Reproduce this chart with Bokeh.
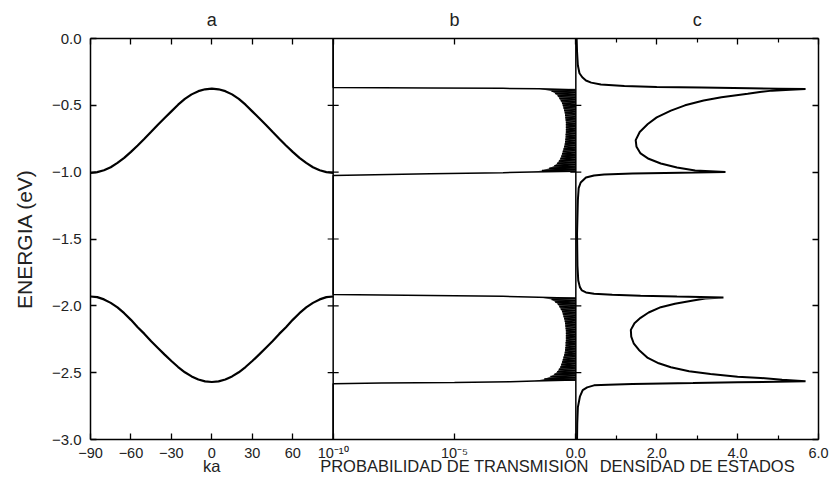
import math
from bokeh.plotting import figure
from bokeh.models import Range1d, LogScale, LinearAxis, FixedTicker, Span
from bokeh.embed import file_html
from bokeh.resources import INLINE

FONT = "Liberation Sans"
TXT = "#222222"

# ---------------- panel a : bands E(ka) ----------------
ka = [-90, -85, -80, -75, -70, -65, -60, -55, -50, -45, -40, -35, -30, -25, -20, -15, -10, -5, 0,
      5, 10, 15, 20, 25, 30, 35, 40, 45, 50, 55, 60, 65, 70, 75, 80, 85, 90]
band_upper = [-1.005, -1.000, -0.986, -0.963, -0.931, -0.893, -0.848, -0.800, -0.750, -0.698,
              -0.645, -0.595, -0.545, -0.495, -0.452, -0.418, -0.394, -0.380, -0.375,
              -0.380, -0.394, -0.418, -0.452, -0.495, -0.545, -0.595, -0.645, -0.698,
              -0.750, -0.800, -0.848, -0.893, -0.931, -0.963, -0.986, -1.000, -1.005]
band_lower = [-1.930, -1.935, -1.952, -1.978, -2.012, -2.055, -2.105, -2.160, -2.210, -2.265,
              -2.315, -2.365, -2.413, -2.458, -2.497, -2.528, -2.551, -2.565, -2.570,
              -2.565, -2.551, -2.528, -2.497, -2.458, -2.413, -2.365, -2.315, -2.265,
              -2.210, -2.160, -2.105, -2.055, -2.012, -1.978, -1.952, -1.935, -1.930]

# ---------------- panel b : transmission (log) ----------------
trans_E = [0.0, -0.366, -0.370, -0.373, -0.376,
           -0.385, -0.394, -0.403, -0.412, -0.421, -0.430, -0.439, -0.448, -0.457, -0.466,
           -0.475, -0.484, -0.493, -0.502, -0.511, -0.520, -0.529, -0.538, -0.547, -0.556,
           -0.565, -0.574, -0.583, -0.592, -0.601, -0.610, -0.619, -0.628, -0.637, -0.646,
           -0.655, -0.664, -0.673, -0.682, -0.691, -0.700, -0.709, -0.718, -0.727, -0.736,
           -0.745, -0.754, -0.763, -0.772, -0.781, -0.790, -0.799, -0.808, -0.817, -0.826,
           -0.835, -0.844, -0.853, -0.862, -0.871, -0.880, -0.889, -0.898, -0.907, -0.916,
           -0.925, -0.934, -0.943, -0.952, -0.961, -0.970, -0.979, -0.988, -0.994, -0.999,
           -1.004, -1.012, -1.025,
           -1.915, -1.922, -1.929, -1.935,
           -1.944, -1.953, -1.962, -1.971, -1.980, -1.989, -1.998, -2.007, -2.016, -2.025,
           -2.034, -2.043, -2.052, -2.061, -2.070, -2.079, -2.088, -2.097, -2.106, -2.115,
           -2.124, -2.133, -2.142, -2.151, -2.160, -2.169, -2.178, -2.187, -2.196, -2.205,
           -2.214, -2.223, -2.232, -2.241, -2.250, -2.259, -2.268, -2.277, -2.286, -2.295,
           -2.304, -2.313, -2.322, -2.331, -2.340, -2.349, -2.358, -2.367, -2.376, -2.385,
           -2.394, -2.403, -2.412, -2.421, -2.430, -2.439, -2.448, -2.457, -2.466, -2.475,
           -2.484, -2.493, -2.502, -2.511, -2.520, -2.529, -2.538, -2.547, -2.555, -2.562,
           -2.568, -2.573, -2.578, -2.582, -3.0]
trans_T = [1e-10, 1e-10, 1e-6, 1e-3, 0.03,
           1.0, 0.10, 1.0, 0.14, 1.0, 0.18, 1.0, 0.21, 1.0, 0.24,
           1.0, 0.27, 1.0, 0.29, 1.0, 0.31, 1.0, 0.33, 1.0, 0.35,
           1.0, 0.36, 1.0, 0.37, 1.0, 0.38, 1.0, 0.39, 1.0, 0.39,
           1.0, 0.39, 1.0, 0.39, 1.0, 0.39, 1.0, 0.38, 1.0, 0.38,
           1.0, 0.37, 1.0, 0.36, 1.0, 0.35, 1.0, 0.33, 1.0, 0.31,
           1.0, 0.29, 1.0, 0.27, 1.0, 0.25, 1.0, 0.23, 1.0, 0.20,
           1.0, 0.17, 1.0, 0.13, 1.0, 0.08, 1.0, 0.04, 1.0, 0.015,
           1e-3, 1e-6, 1e-10,
           1e-10, 1e-6, 1e-3, 0.03,
           1.0, 0.10, 1.0, 0.14, 1.0, 0.18, 1.0, 0.21, 1.0, 0.24,
           1.0, 0.27, 1.0, 0.29, 1.0, 0.31, 1.0, 0.33, 1.0, 0.35,
           1.0, 0.36, 1.0, 0.37, 1.0, 0.38, 1.0, 0.39, 1.0, 0.39,
           1.0, 0.39, 1.0, 0.39, 1.0, 0.39, 1.0, 0.38, 1.0, 0.38,
           1.0, 0.37, 1.0, 0.36, 1.0, 0.35, 1.0, 0.33, 1.0, 0.31,
           1.0, 0.29, 1.0, 0.27, 1.0, 0.25, 1.0, 0.23, 1.0, 0.20,
           1.0, 0.17, 1.0, 0.13, 1.0, 0.09, 1.0, 0.05, 1.0, 0.02,
           2e-3, 1e-5, 1e-8, 1e-10, 1e-10]

# ---------------- panel c : density of states ----------------
dos_E = [0.0, -0.10, -0.20, -0.26, -0.29, -0.314, -0.33, -0.344, -0.355, -0.362,
         -0.367, -0.372, -0.375, -0.378, -0.383, -0.390, -0.400, -0.414, -0.440, -0.464,
         -0.500, -0.540, -0.590, -0.640, -0.700, -0.760, -0.810, -0.860, -0.900, -0.935,
         -0.965, -0.987, -0.998, -1.004, -1.010, -1.018, -1.025, -1.040, -1.077, -1.120,
         -1.210, -1.460, -1.700, -1.810, -1.860, -1.885, -1.900, -1.910, -1.918, -1.924,
         -1.930, -1.937, -1.945, -1.960, -1.985, -2.010, -2.050, -2.090, -2.130, -2.180,
         -2.230, -2.280, -2.330, -2.390, -2.430, -2.460, -2.490, -2.510, -2.530, -2.540,
         -2.553, -2.565, -2.572, -2.578, -2.585, -2.590, -2.595, -2.610, -2.630, -2.680,
         -2.760, -2.880, -3.000]
dos_D = [0.02, 0.03, 0.05, 0.09, 0.16, 0.25, 0.38, 0.62, 1.2, 2.0,
         3.1, 4.3, 5.0, 5.68, 5.3, 4.85, 4.55, 4.25, 3.6, 3.16,
         2.7, 2.35, 2.0, 1.78, 1.58, 1.48, 1.50, 1.60, 1.80, 2.10,
         2.50, 2.95, 3.70, 2.60, 1.40, 0.70, 0.45, 0.25, 0.12, 0.07,
         0.05, 0.03, 0.04, 0.06, 0.10, 0.15, 0.25, 0.45, 0.90, 1.60,
         2.50, 3.65, 3.20, 2.90, 2.45, 2.10, 1.80, 1.60, 1.45, 1.36,
         1.37, 1.43, 1.56, 1.78, 2.05, 2.35, 2.80, 3.33, 4.00, 4.57,
         5.10, 5.68, 4.00, 2.90, 1.40, 0.80, 0.45, 0.28, 0.17, 0.10,
         0.05, 0.035, 0.03]

# ---------------- ticks / labels ----------------
ka_ticks = [-90, -60, -30, 0, 30, 60]
ka_labels = ["\u221290", "\u221260", "\u221230", "0", "30", "60"]
trans_ticks = [1e-10, 1e-5]
trans_labels = ["10\u207b\u00b9\u2070", "10\u207b\u2075"]
dos_ticks = [0, 2, 4, 6]
dos_labels = ["0.0", "2.0", "4.0", "6.0"]
dos_minor = [1, 3, 5]
e_ticks = [0.0, -0.5, -1.0, -1.5, -2.0, -2.5, -3.0]
e_labels = ["0.0", "\u22120.5", "\u22121.0", "\u22121.5", "\u22122.0", "\u22122.5", "\u22123.0"]
titles = ["a", "b", "c"]
xlabels = ["ka", "PROBABILIDAD DE TRANSMISION", "DENSIDAD DE ESTADOS"]
panel_centers = [(0, "ka"), (1e-5, "trans"), (3, "dos")]

p = figure(width=830, height=477, x_range=Range1d(-90, 450), y_range=Range1d(-3, 0),
           output_backend="svg", toolbar_location=None,
           x_axis_location=None, y_axis_location=None,
           min_border_left=90, min_border_right=12, min_border_top=38, min_border_bottom=38)
p.extra_x_ranges = {"trans": Range1d(1e-20, 1e10), "dos": Range1d(-12, 6)}
p.extra_x_scales = {"trans": LogScale()}
p.xgrid.visible = False
p.ygrid.visible = False
p.outline_line_color = None
p.background_fill_color = "white"
p.border_fill_color = "white"


def to_main(v, name):
    """position of value v of panel range `name` on the shared (ka) x range"""
    if name == "ka":
        return float(v)
    r = p.extra_x_ranges[name]
    if name == "trans":
        f = (math.log10(v) - math.log10(r.start)) / (math.log10(r.end) - math.log10(r.start))
    else:
        f = (v - r.start) / (r.end - r.start)
    m = p.x_range
    return round(m.start + f * (m.end - m.start), 6)


major = [to_main(t, "ka") for t in ka_ticks] + [to_main(t, "trans") for t in trans_ticks] + \
        [to_main(d, "dos") for d in dos_ticks]
labels = list(ka_labels) + trans_labels + dos_labels
minor = [to_main(d, "dos") for d in dos_minor]
overrides = {t: l for t, l in zip(major, labels)}
empty = {t: "" for t in major}
centers = [to_main(v, n) for v, n in panel_centers]

common = dict(axis_line_width=1.5, axis_line_color="black",
              major_tick_line_width=1.3, major_tick_line_color="black",
              minor_tick_line_width=1.2, minor_tick_line_color="black",
              major_tick_in=6, major_tick_out=0, minor_tick_in=4, minor_tick_out=0,
              major_label_text_font=FONT, major_label_text_color=TXT)
plain = dict(axis_line_color=None, major_tick_line_color=None, minor_tick_line_color=None,
             major_tick_in=0, major_tick_out=0, minor_tick_in=0, minor_tick_out=0,
             major_label_text_font=FONT, major_label_text_color=TXT)

# bottom: tick axis, then a row with the three panel titles
xb = LinearAxis(ticker=FixedTicker(ticks=major, minor_ticks=minor),
                major_label_overrides=overrides, major_label_standoff=5,
                major_label_text_font_size="14.5px", **common)
p.add_layout(xb, "below")
xb2 = LinearAxis(ticker=FixedTicker(ticks=centers, minor_ticks=[]),
                 major_label_overrides={c: t for c, t in zip(centers, xlabels)},
                 major_label_standoff=-7, major_label_text_font_size="16.5px", **plain)
p.add_layout(xb2, "below")

# top: tick axis, then the panel letters
xt = LinearAxis(ticker=FixedTicker(ticks=major, minor_ticks=minor),
                major_label_overrides=empty, major_label_standoff=0,
                major_label_text_font_size="0px", **common)
p.add_layout(xt, "above")
xt2 = LinearAxis(ticker=FixedTicker(ticks=centers, minor_ticks=[]),
                 major_label_overrides={c: t for c, t in zip(centers, titles)},
                 major_label_standoff=9, major_label_text_font_size="18px", **plain)
p.add_layout(xt2, "above")

yl = LinearAxis(ticker=FixedTicker(ticks=e_ticks), major_label_overrides=dict(zip(e_ticks, e_labels)),
                major_label_standoff=9, major_label_text_font_size="15px",
                axis_label="ENERGIA (eV)", axis_label_text_font=FONT, axis_label_text_font_size="21px",
                axis_label_text_font_style="normal", axis_label_text_color=TXT, axis_label_standoff=13,
                **common)
p.add_layout(yl, "left")
yr = LinearAxis(ticker=FixedTicker(ticks=e_ticks), major_label_overrides={t: "" for t in e_ticks},
                major_label_standoff=0, major_label_text_font_size="0px", **common)
p.add_layout(yr, "right")

# panel separators
p.add_layout(Span(location=1e-10, dimension="height", x_range_name="trans", line_color="black", line_width=1.5))
p.add_layout(Span(location=0, dimension="height", x_range_name="dos", line_color="black", line_width=1.5))
# y ticks on the inner panel borders
p.scatter(x=[1e-10] * len(e_ticks), y=e_ticks, x_range_name="trans", marker="dash", size=11,
          line_color="black", line_width=1.2)
p.scatter(x=[0] * len(e_ticks), y=e_ticks, x_range_name="dos", marker="dash", size=11,
          line_color="black", line_width=1.2)

# dense oscillation zone of the transmission: shade between the minima and T = 1
for lo, hi in [(-1.2, 0.0), (-3.0, -1.5)]:
    pts = [(e, t) for e, t in zip(trans_E, trans_T) if lo < e < hi and 0.01 <= t < 1.0]
    ye = [e for e, _ in pts]
    p.harea(y=ye, x1=[t for _, t in pts], x2=[1.0] * len(pts), x_range_name="trans",
            fill_color="black", fill_alpha=0.72)

# curves
p.line(ka, band_upper, line_color="black", line_width=2.2)
p.line(ka, band_lower, line_color="black", line_width=2.2)
p.line(trans_T, trans_E, x_range_name="trans", line_color="black", line_width=1.5)
p.line(dos_D, dos_E, x_range_name="dos", line_color="black", line_width=2.0)

open("out.html", "w").write(file_html(p, INLINE))
